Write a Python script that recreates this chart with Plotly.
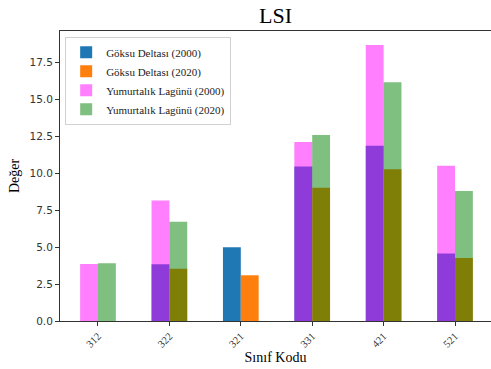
import plotly.graph_objects as go

categories = ["312", "322", "321", "331", "421", "521"]
goksu_2000 = [0, 3.83, 4.98, 10.45, 11.84, 4.57]
goksu_2020 = [0, 3.53, 3.09, 9.01, 10.25, 4.26]
yum_2000 = [3.85, 8.15, 0, 12.09, 18.65, 10.49]
yum_2020 = [3.90, 6.71, 0, 12.57, 16.13, 8.78]

idx = list(range(len(categories)))
w = 0.25
serif = "Liberation Serif"
sans = "DejaVu Sans"

fig = go.Figure()
fig.add_trace(go.Bar(x=[i - w / 2 for i in idx], y=goksu_2000, width=w,
                     name="Göksu Deltası (2000)", marker=dict(color="#1f77b4", line=dict(width=0))))
fig.add_trace(go.Bar(x=[i + w / 2 for i in idx], y=goksu_2020, width=w,
                     name="Göksu Deltası (2020)", marker=dict(color="#ff7f0e", line=dict(width=0))))
fig.add_trace(go.Bar(x=[i - w / 2 for i in idx], y=yum_2000, width=w,
                     name="Yumurtalık Lagünü (2000)", marker=dict(color="rgba(255,0,255,0.5)", line=dict(width=0))))
fig.add_trace(go.Bar(x=[i + w / 2 for i in idx], y=yum_2020, width=w,
                     name="Yumurtalık Lagünü (2020)", marker=dict(color="rgba(0,128,0,0.5)", line=dict(width=0))))

fig.update_layout(
    width=491, height=369,
    barmode="overlay",
    plot_bgcolor="white", paper_bgcolor="white",
    margin=dict(l=60, r=0, t=31, b=48),
    title=dict(text="LSI", x=0.5, xref="paper", xanchor="center", y=0.958, yanchor="middle",
               font=dict(family=serif, size=22, color="black")),
    legend=dict(x=0.012, y=0.98, xanchor="left", yanchor="top",
                bgcolor="rgba(255,255,255,0.8)", bordercolor="#d0d0d0", borderwidth=1,
                font=dict(family=serif, size=11, color="#222"), tracegroupgap=0,
                itemwidth=30),
    showlegend=True,
)
fig.update_xaxes(
    range=[-0.532, 5.504], tickmode="array", tickvals=idx, ticktext=categories,
    tickangle=-45, ticks="outside", ticklen=4, tickcolor="#333",
    tickfont=dict(family=serif, size=10.5, color="#333"),
    showline=True, linecolor="#333", linewidth=1, mirror=True, showgrid=False, zeroline=False,
    title=dict(text="Sınıf Kodu", font=dict(family=serif, size=14, color="black"), standoff=3),
    automargin=False,
)
fig.update_yaxes(
    range=[0, 19.6], tickvals=[0, 2.5, 5, 7.5, 10, 12.5, 15, 17.5],
    ticktext=["0.0", "2.5", "5.0", "7.5", "10.0", "12.5", "15.0", "17.5"],
    ticks="outside", ticklen=4, tickcolor="#333",
    tickfont=dict(family=sans, size=10.5, color="#333"),
    showline=True, linecolor="#333", linewidth=1, mirror=True, showgrid=False, zeroline=False,
    title=dict(text="Değer", font=dict(family=serif, size=14, color="black"), standoff=6),
    automargin=False,
)
fig.write_html("out.html", config={"displayModeBar": False},
               post_script="document.body.style.margin='0';document.body.style.overflow='hidden';")
